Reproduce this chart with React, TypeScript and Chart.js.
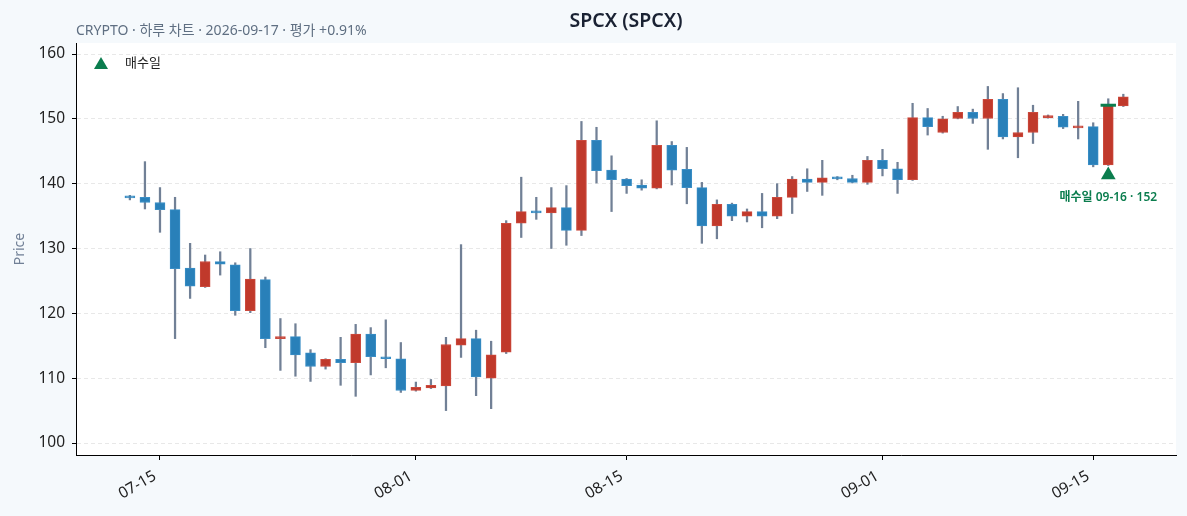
import { useEffect, useRef } from "react";
import { Chart, registerables } from "chart.js";

Chart.register(...registerables);

// daily candles, 07-13 .. 09-17
const dates = [
  "07-13", "07-14", "07-15", "07-16", "07-17", "07-18", "07-19", "07-20", "07-21", "07-22",
  "07-23", "07-24", "07-25", "07-26", "07-27", "07-28", "07-29", "07-30", "07-31", "08-01",
  "08-02", "08-03", "08-04", "08-05", "08-06", "08-07", "08-08", "08-09", "08-10", "08-11",
  "08-12", "08-13", "08-14", "08-15", "08-16", "08-17", "08-18", "08-19", "08-20", "08-21",
  "08-22", "08-23", "08-24", "08-25", "08-26", "08-27", "08-28", "08-29", "08-30", "08-31",
  "09-01", "09-02", "09-03", "09-04", "09-05", "09-06", "09-07", "09-08", "09-09", "09-10",
  "09-11", "09-12", "09-13", "09-14", "09-15", "09-16", "09-17",
];
const opens = [
  138.0, 137.9, 137.1, 136.0, 127.0, 124.1, 128.0, 127.5, 120.4, 125.2,
  116.1, 116.4, 113.9, 111.8, 112.9, 112.4, 116.8, 113.3, 113.0, 108.1,
  108.5, 108.8, 115.1, 116.1, 110.0, 114.0, 133.9, 135.7, 135.5, 136.3,
  132.8, 146.7, 142.1, 140.7, 139.8, 139.3, 145.9, 142.2, 139.4, 133.5,
  136.8, 135.0, 135.7, 135.0, 137.9, 140.7, 140.2, 140.95, 140.8, 140.2,
  143.6, 142.3, 140.6, 150.2, 147.9, 150.05, 151.0, 150.05, 153.0, 147.2,
  147.9, 150.2, 150.4, 148.6, 148.8, 142.9, 152.0,
];
const highs = [
  138.2, 143.4, 139.4, 137.9, 130.8, 129.0, 129.5, 127.8, 130.0, 125.6,
  119.2, 118.4, 114.4, 113.0, 116.3, 118.3, 117.8, 119.0, 115.5, 109.4,
  109.8, 116.3, 130.6, 117.4, 115.7, 134.3, 141.0, 137.9, 139.4, 139.7,
  149.6, 148.7, 144.3, 140.8, 140.6, 149.7, 146.5, 145.6, 140.2, 137.5,
  137.0, 136.1, 138.5, 140.0, 141.1, 142.3, 143.6, 141.1, 141.3, 144.2,
  145.3, 143.3, 152.4, 151.6, 150.4, 151.9, 151.5, 155.0, 153.9, 154.8,
  152.1, 150.6, 150.7, 152.7, 149.4, 153.1, 153.8,
];
const lows = [
  137.5, 136.1, 132.5, 116.1, 122.3, 124.0, 125.9, 119.7, 120.1, 114.7,
  111.2, 110.3, 109.5, 111.4, 108.9, 107.2, 110.5, 111.6, 107.8, 108.0,
  108.4, 105.0, 113.2, 107.3, 105.3, 113.8, 131.7, 134.5, 130.0, 130.5,
  132.0, 140.1, 135.7, 138.5, 139.0, 139.2, 139.8, 136.9, 130.8, 131.5,
  134.3, 134.1, 133.2, 134.6, 135.4, 138.8, 138.2, 140.6, 140.1, 139.9,
  141.2, 138.5, 140.5, 147.5, 147.8, 150.0, 149.3, 145.3, 146.9, 144.0,
  146.2, 150.1, 148.5, 146.9, 142.6, 142.8, 151.9,
];
const closes = [
  137.8, 137.1, 136.0, 126.9, 124.2, 128.0, 127.6, 120.4, 125.3, 116.1,
  116.4, 113.6, 111.8, 112.9, 112.4, 116.8, 113.3, 113.0, 108.1, 108.6,
  108.9, 115.2, 116.1, 110.2, 113.6, 133.9, 135.7, 135.5, 136.3, 132.8,
  146.7, 142.0, 140.6, 139.7, 139.3, 145.9, 142.1, 139.4, 133.5, 136.8,
  135.0, 135.7, 135.0, 137.9, 140.7, 140.2, 140.9, 140.75, 140.2, 143.6,
  142.3, 140.6, 150.2, 148.8, 150.0, 151.0, 150.05, 153.0, 147.2, 147.9,
  151.0, 150.4, 148.7, 148.8, 142.9, 152.1, 153.4,
];

const buyDates = ["09-16"];
const buyPrices = [152];

const yTicks = [100, 110, 120, 130, 140, 150, 160];
const xTickDates = ["07-15", "08-01", "08-15", "09-01", "09-15"];

const titleText = "SPCX (SPCX)";
const subtitleText = "CRYPTO · 하루 차트 · 2026-09-17 · 평가 +0.91%";
const legendText = "매수일";

const UP = "#c0392b";
const DOWN = "#2980b9";
const WICK = "#718096";
const BUY = "#0b7d4e";
const FONT = "'Noto Sans', 'Noto Sans CJK KR', sans-serif";
const MARKER_GAP = 1.45; // price units below the low

export default function App() {
  const canvasRef = useRef<HTMLCanvasElement>(null);

  useEffect(() => {
    document.body.style.margin = "0";
    document.body.style.background = "#f5f9fc";
    if (!canvasRef.current) return;

    const xs = dates.map((_, i) => i);
    const buyIdx = buyDates.map((d) => dates.indexOf(d));

    const frame = {
      id: "frame",
      beforeDraw(chart: any) {
        const { ctx, chartArea: a, width, height } = chart;
        ctx.save();
        ctx.fillStyle = "#f5f9fc";
        ctx.fillRect(0, 0, width, height);
        ctx.fillStyle = "#ffffff";
        ctx.fillRect(a.left, a.top, a.right - a.left, a.bottom - a.top);
        ctx.restore();
      },
      afterDraw(chart: any) {
        const { ctx, chartArea: a } = chart;
        const sx = chart.scales.x;
        const sy = chart.scales.y;
        ctx.save();
        ctx.textBaseline = "middle";

        ctx.fillStyle = "#1a2233";
        ctx.font = `600 19.5px ${FONT}`;
        ctx.textAlign = "center";
        ctx.fillText(titleText, (a.left + a.right) / 2, 21);

        ctx.fillStyle = "#5f6f82";
        ctx.font = `14px ${FONT}`;
        ctx.textAlign = "left";
        ctx.fillText(subtitleText, a.left, 31);

        // legend inside the plot
        const lx = a.left + 25;
        const ly = a.top + 20;
        ctx.fillStyle = BUY;
        ctx.beginPath();
        ctx.moveTo(lx, ly - 6);
        ctx.lineTo(lx + 7, ly + 6);
        ctx.lineTo(lx - 7, ly + 6);
        ctx.closePath();
        ctx.fill();
        ctx.fillStyle = "#222";
        ctx.font = `13px ${FONT}`;
        ctx.fillText(legendText, a.left + 49, ly);

        // buy annotation
        ctx.fillStyle = BUY;
        ctx.font = `600 12px ${FONT}`;
        ctx.textAlign = "center";
        buyIdx.forEach((i, k) => {
          const px = sx.getPixelForValue(i);
          const py = sy.getPixelForValue(lows[i] - MARKER_GAP);
          ctx.fillText(`매수일 ${buyDates[k]} · ${buyPrices[k]}`, px, py + 23);
        });
        ctx.restore();
      },
    };

    const chart = new Chart(canvasRef.current, {
      type: "bar",
      data: {
        datasets: [
          {
            type: "scatter",
            label: "close mark",
            data: buyIdx.map((i) => ({ x: i, y: closes[i] })),
            pointStyle: "line",
            radius: 7.7,
            borderWidth: 3,
            borderColor: BUY,
            backgroundColor: BUY,
            order: 0,
          } as any,
          {
            type: "scatter",
            label: legendText,
            data: buyIdx.map((i) => ({ x: i, y: lows[i] - MARKER_GAP })),
            pointStyle: "triangle",
            radius: 8.5,
            borderWidth: 0,
            backgroundColor: BUY,
            order: 0,
          } as any,
          {
            label: "body",
            data: xs.map((x, i) => ({ x, y: [opens[i], closes[i]] })),
            backgroundColor: xs.map((i) => (closes[i] >= opens[i] ? UP : DOWN)),
            borderColor: xs.map((i) => (closes[i] >= opens[i] ? "#cc4a3d" : "#3a8ec6")),
            borderWidth: 1,
            borderSkipped: false,
            barThickness: 10,
            minBarLength: 2,
            grouped: false,
            order: 1,
          } as any,
          {
            label: "wick",
            data: xs.map((x, i) => ({ x, y: [lows[i], highs[i]] })),
            backgroundColor: WICK,
            barThickness: 1.6,
            grouped: false,
            order: 2,
          } as any,
        ],
      },
      options: {
        animation: false,
        responsive: true,
        maintainAspectRatio: false,
        layout: { padding: { top: 43, right: 11, left: 0, bottom: 0 } },
        plugins: {
          legend: { display: false },
          tooltip: { enabled: false },
          title: { display: false },
        },
        scales: {
          x: {
            type: "linear",
            offset: false,
            min: -3.58,
            max: 69.5,
            afterBuildTicks(scale: any) {
              scale.ticks = xTickDates.map((d) => ({ value: dates.indexOf(d) }));
            },
            afterFit(scale: any) {
              scale.height = 61;
            },
            ticks: {
              callback: (v: any) => dates[v] ?? "",
              color: "#222",
              font: { family: FONT, size: 15.5 },
              minRotation: 30,
              maxRotation: 30,
              padding: 7,
              labelOffset: -5,
              autoSkip: false,
            },
            grid: {
              offset: false,
              drawOnChartArea: false,
              drawTicks: true,
              tickLength: 5,
              tickColor: "#000",
              tickWidth: 1,
            },
            border: { display: true, color: "#000", width: 1 },
          },
          y: {
            type: "linear",
            min: 98.15,
            max: 161.7,
            afterBuildTicks(scale: any) {
              scale.ticks = yTicks.map((v) => ({ value: v }));
            },
            afterFit(scale: any) {
              scale.width = 76;
            },
            title: {
              display: true,
              text: "Price",
              color: "#718096",
              font: { family: FONT, size: 14 },
              padding: { top: 12, bottom: 0 },
            },
            ticks: {
              color: "#222",
              font: { family: FONT, size: 15.5 },
              padding: 7,
            },
            grid: {
              color: "#e8e8e8",
              lineWidth: 1,
              drawTicks: true,
              tickLength: 4,
              tickColor: "#000",
              tickWidth: 1,
            },
            border: { display: true, color: "#000", width: 1, dash: [4, 3] },
          },
        },
      },
      plugins: [frame],
    } as any);

    return () => {
      chart.destroy();
    };
  }, []);

  return (
    <div style={{ width: 1187, height: 516, position: "relative" }}>
      <canvas ref={canvasRef} />
    </div>
  );
}
